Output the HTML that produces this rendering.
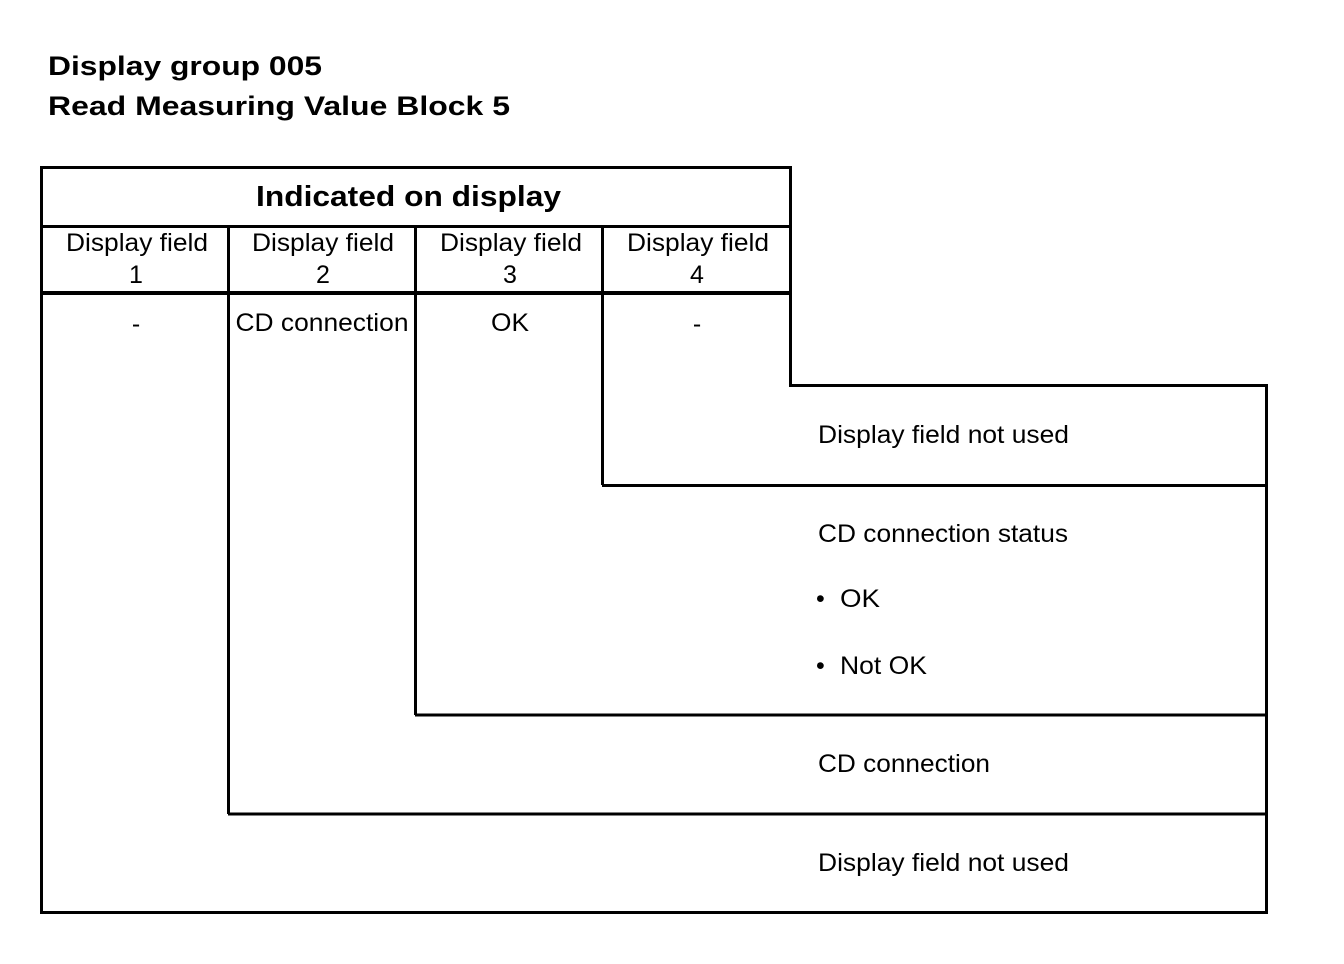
<!DOCTYPE html>
<html><head><meta charset="utf-8"><style>
html,body{margin:0;padding:0;background:#fff;}
svg{display:block;}
text{font-family:"Liberation Sans",Arial,sans-serif;fill:#000;}
</style></head><body>
<svg width="1344" height="964" viewBox="0 0 1344 964">
<text x="48" y="75" font-size="27" font-weight="bold" textLength="274" lengthAdjust="spacingAndGlyphs">Display group 005</text>
<text x="48" y="115" font-size="27" font-weight="bold" textLength="462" lengthAdjust="spacingAndGlyphs">Read Measuring Value Block 5</text>
<g stroke="#000" stroke-width="3" fill="none">
<path d="M41.5 167.5 H790.5 V385.5 H1266.5 V912.5 H41.5 Z"/>
<line x1="41" y1="226.5" x2="790" y2="226.5"/>
<line x1="41" y1="293" x2="790" y2="293" stroke-width="4"/>
<line x1="228.5" y1="226" x2="228.5" y2="814"/>
<line x1="415.5" y1="226" x2="415.5" y2="715"/>
<line x1="602.5" y1="226" x2="602.5" y2="485"/>
<line x1="602" y1="485.5" x2="1266" y2="485.5"/>
<line x1="415" y1="715" x2="1266" y2="715"/>
<line x1="228" y1="814" x2="1266" y2="814"/>
</g>
<text x="256" y="206" font-size="29" font-weight="bold" textLength="305" lengthAdjust="spacingAndGlyphs">Indicated on display</text>
<g font-size="25" text-anchor="middle">
<text x="137" y="251" textLength="142" lengthAdjust="spacingAndGlyphs">Display field</text><text x="136" y="283">1</text>
<text x="323" y="251" textLength="142" lengthAdjust="spacingAndGlyphs">Display field</text><text x="323" y="283">2</text>
<text x="511" y="251" textLength="142" lengthAdjust="spacingAndGlyphs">Display field</text><text x="510" y="283">3</text>
<text x="698" y="251" textLength="142" lengthAdjust="spacingAndGlyphs">Display field</text><text x="697" y="283">4</text>
<text x="136" y="332">-</text>
<text x="322" y="331" textLength="173" lengthAdjust="spacingAndGlyphs">CD connection</text>
<text x="510" y="331" textLength="38" lengthAdjust="spacingAndGlyphs">OK</text>
<text x="697" y="332">-</text>
</g>
<g font-size="25">
<text x="818" y="443" textLength="251" lengthAdjust="spacingAndGlyphs">Display field not used</text>
<text x="818" y="542" textLength="250" lengthAdjust="spacingAndGlyphs">CD connection status</text>
<text x="816" y="607">•</text><text x="840" y="607" textLength="40" lengthAdjust="spacingAndGlyphs">OK</text>
<text x="816" y="674">•</text><text x="840" y="674" textLength="87" lengthAdjust="spacingAndGlyphs">Not OK</text>
<text x="818" y="772" textLength="172" lengthAdjust="spacingAndGlyphs">CD connection</text>
<text x="818" y="871" textLength="251" lengthAdjust="spacingAndGlyphs">Display field not used</text>
</g>
</svg>
</body></html>
